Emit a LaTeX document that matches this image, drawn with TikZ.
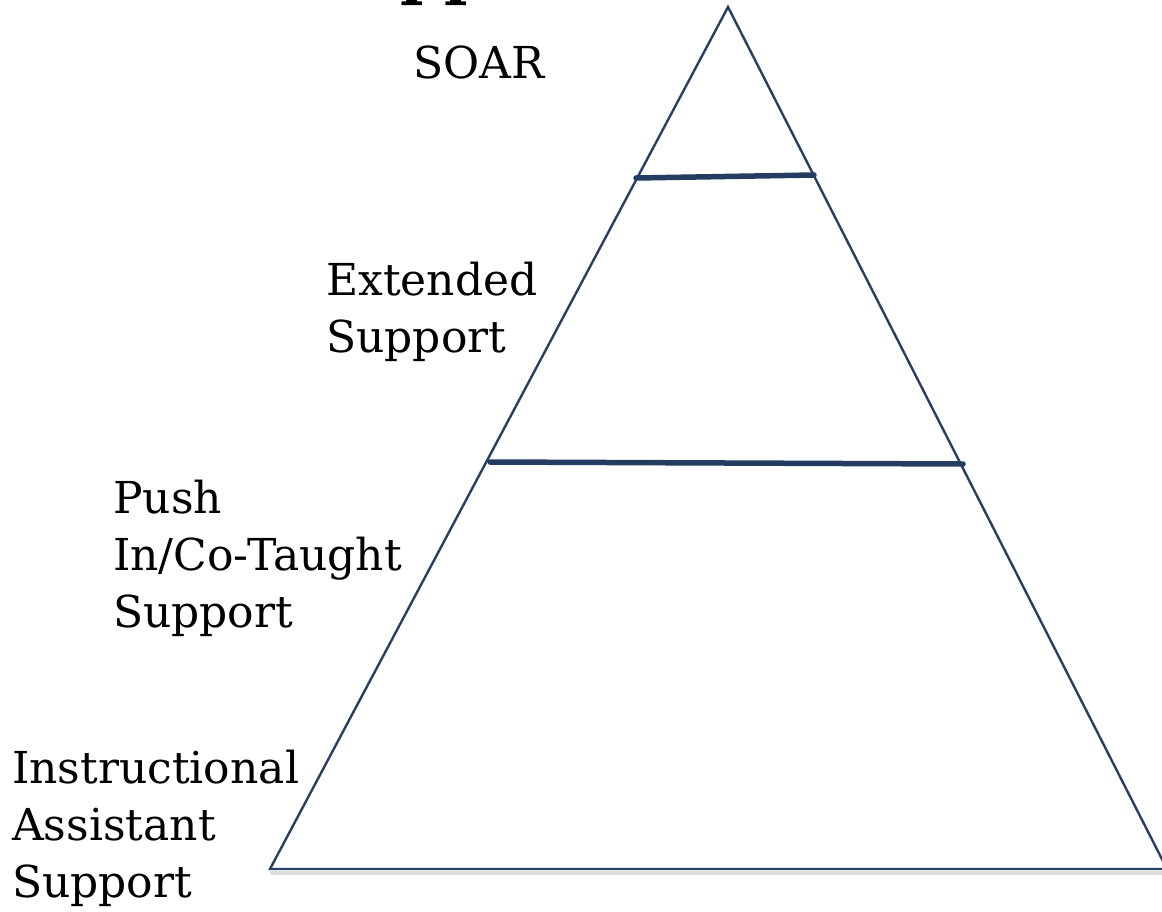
\documentclass[tikz,border=0pt]{standalone}
\usepackage{fontspec}
\setmainfont{DejaVu Serif}
\definecolor{navy}{RGB}{40,64,100}
\definecolor{navyd}{RGB}{35,60,95}
\tikzset{
  tri/.style={draw=navy, line width=2.4pt, line join=miter},
  divider/.style={draw=navyd, line width=5.5pt, line cap=round},
  shade/.style={draw=black!25, opacity=0.5, line width=4pt},
  lbl/.style={font=\fontsize{44}{57}\selectfont, align=left, anchor=base west, inner sep=0pt, text=black},
}
\begin{document}
\begin{tikzpicture}[x=1pt,y=-1pt]
\useasboundingbox (0,0) rectangle (1162,911);
\fill[white] (0,0) rectangle (1162,911);
% cropped title fragment
\node[font=\fontsize{63}{70}\selectfont\bfseries, anchor=base west, inner sep=0pt] (title) at (400,-8) {pp};
% triangle
\coordinate (apex) at (728,7);
\coordinate (bl) at (270,869);
\coordinate (br) at (1167,869);
\draw[shade] ([yshift=-4pt]bl) -- ([yshift=-4pt]br);
\draw[tri] (apex) -- (bl) -- (br) -- cycle;
% dividers
\coordinate (d1l) at (636,178);
\coordinate (d1r) at (814,175);
\coordinate (d2l) at (490,462);
\coordinate (d2r) at (963,464);
\draw[divider] (d1l) -- (d1r);
\draw[divider] (d2l) -- (d2r);
% labels (anchor = baseline of last line)
\node[lbl] (soar) at (413,78) {SOAR};
\node[lbl] (ext) at (326,352) {Extended\\Support};
\node[lbl] (push) at (113,627) {Push\\In/Co-Taught\\Support};
\node[lbl] (ia) at (12,897) {Instructional\\Assistant\\Support};
\end{tikzpicture}
\end{document}
